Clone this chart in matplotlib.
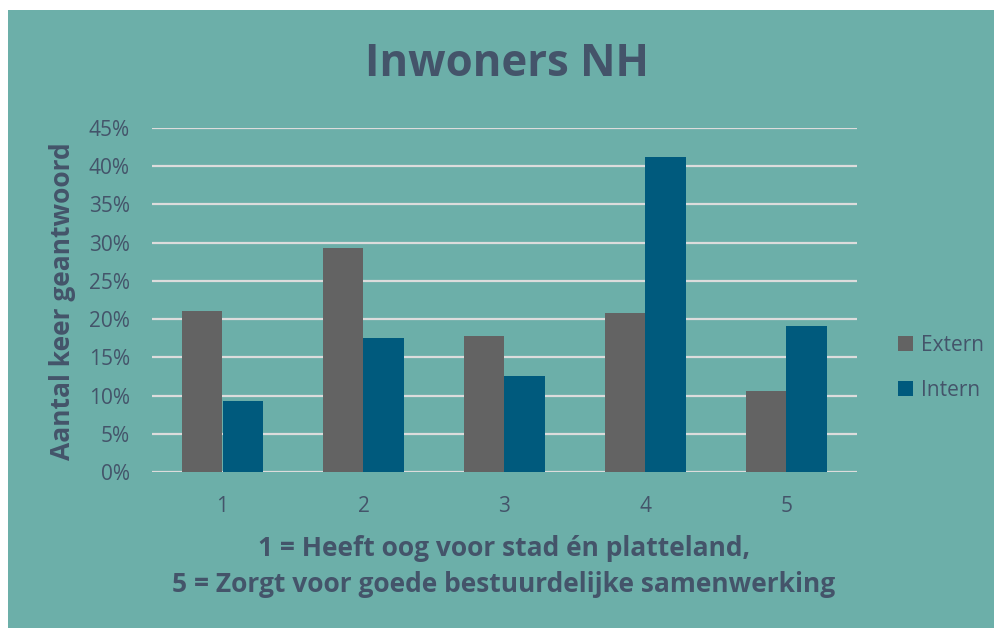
import matplotlib
matplotlib.use("Agg")
import matplotlib.pyplot as plt
from matplotlib.patches import Rectangle
from matplotlib.ticker import PercentFormatter
import numpy as np

categories = ["1", "2", "3", "4", "5"]
extern = [0.211, 0.293, 0.178, 0.208, 0.106]
intern = [0.093, 0.175, 0.126, 0.412, 0.191]
series_names = ["Extern", "Intern"]
y_ticks = [0.0, 0.05, 0.10, 0.15, 0.20, 0.25, 0.30, 0.35, 0.40, 0.45]

TEAL = "#6CAFA9"
GRAY = "#636363"
BLUE = "#005A7D"
TEXT = "#44546A"
GRID = "#DCDCDC"

plt.rcParams["font.family"] = ["Open Sans", "DejaVu Sans"]

W, H = 995, 629
fig = plt.figure(figsize=(W / 100, H / 100), dpi=100, facecolor="white")
# teal panel, leaves a thin white margin at top/left like the original
fig.patches.append(Rectangle((8 / W, 1 - 628 / H), 1 - 8 / W, (628 - 10) / H,
                             transform=fig.transFigure, facecolor=TEAL,
                             edgecolor="none", zorder=-5))

ax = fig.add_axes([152 / W, 1 - 472 / H, (857 - 152) / W, (472 - 128) / H])
ax.set_facecolor("none")
ax.set_zorder(2)

x = np.arange(1, len(categories) + 1)
bw = 0.29
ax.bar(x - bw / 2, extern, bw, color=GRAY, label=series_names[0], zorder=3)
ax.bar(x + bw / 2, intern, bw, color=BLUE, label=series_names[1], zorder=3)

ax.set_xlim(0.5, len(categories) + 0.5)
ax.set_ylim(0, 0.45)
ax.set_yticks(y_ticks)
ax.yaxis.set_major_formatter(PercentFormatter(1.0, decimals=0))
ax.set_xticks(x)
ax.set_xticklabels(categories)
ax.grid(True, axis="y", color=GRID, linewidth=1.6, zorder=1)
ax.set_axisbelow(True)
ax.tick_params(axis="both", length=0, labelsize=15, labelcolor=TEXT)
ax.tick_params(axis="y", pad=16)
ax.tick_params(axis="x", pad=17)
for s in ax.spines.values():
    s.set_visible(False)

fig.text(507 / W, 1 - 64 / H, "Inwoners NH", ha="center", va="center",
         fontsize=31.5, fontweight="bold", color=TEXT)
fig.text(63 / W, 1 - 301 / H, "Aantal keer geantwoord", ha="center", va="center",
         rotation=90, fontsize=19, fontweight="bold", color=TEXT)
fig.text(504 / W, 1 - 549 / H, "1 = Heeft oog voor stad én platteland,",
         ha="center", va="center", fontsize=19, fontweight="bold", color=TEXT)
fig.text(504 / W, 1 - 585 / H, "5 = Zorgt voor goede bestuurdelijke samenwerking",
         ha="center", va="center", fontsize=19, fontweight="bold", color=TEXT)

leg = ax.legend(loc="center left", bbox_to_anchor=(888 / W, 1 - 368 / H),
                bbox_transform=fig.transFigure, frameon=False, fontsize=15,
                handlelength=0.7, handleheight=0.7, handletextpad=0.4,
                labelspacing=1.15, borderpad=0)
for t in leg.get_texts():
    t.set_color(TEXT)

fig.savefig("out.png", dpi=100, facecolor="white")
